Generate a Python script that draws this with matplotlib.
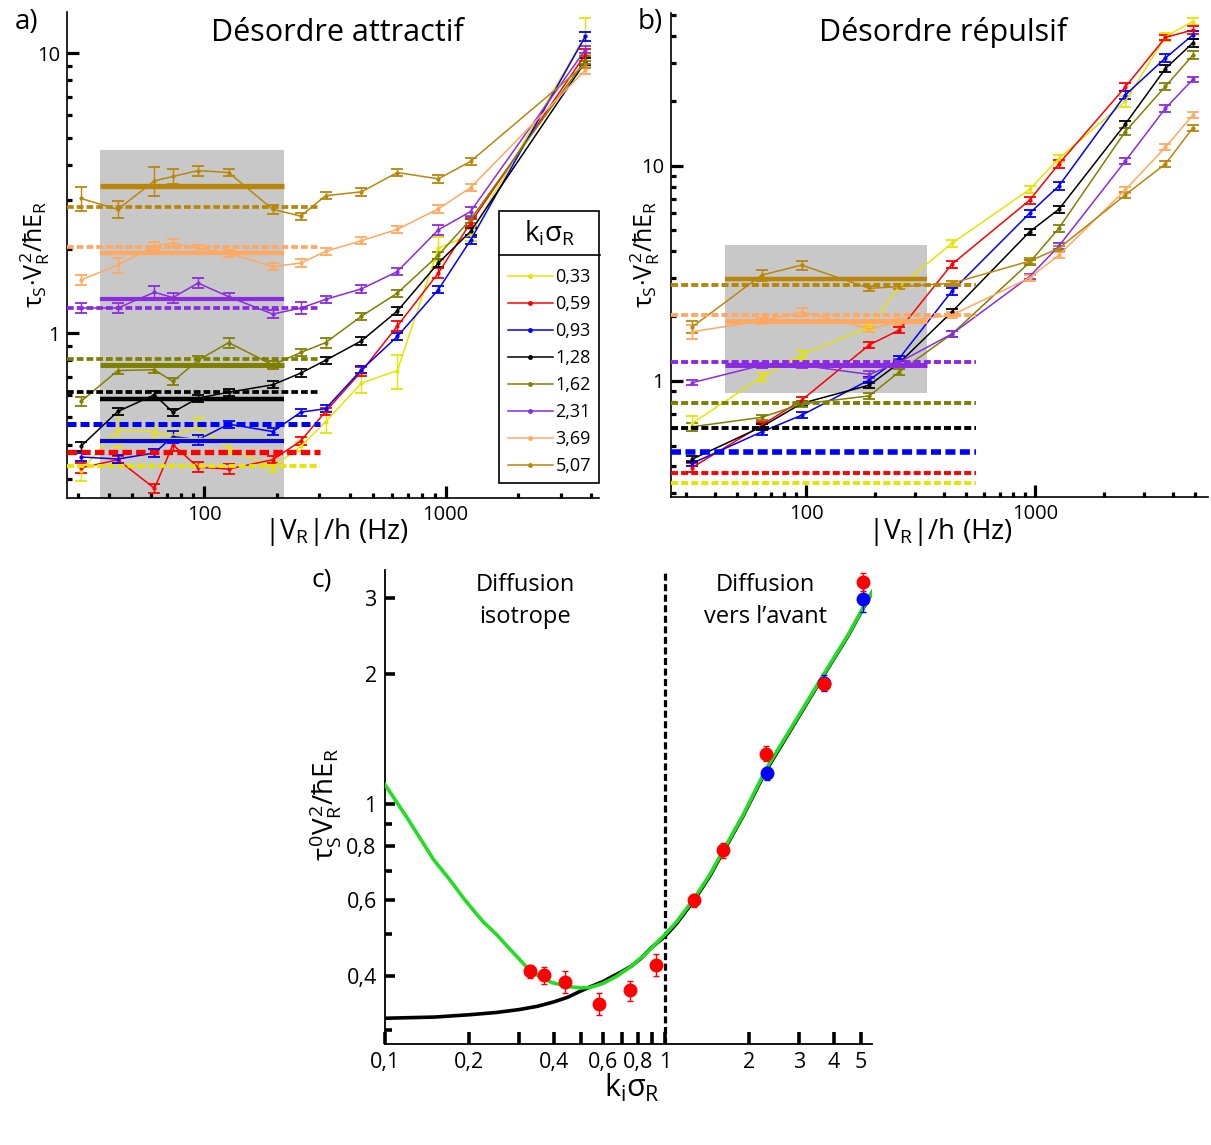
import matplotlib
matplotlib.use('Agg')
import matplotlib.pyplot as plt
from matplotlib.lines import Line2D
from matplotlib.ticker import FixedLocator, FixedFormatter, NullFormatter, LogLocator

plt.rcParams['font.family'] = ['Open Sans', 'DejaVu Sans']
plt.rcParams['mathtext.fontset'] = 'custom'
plt.rcParams['mathtext.rm'] = 'Open Sans'
plt.rcParams['mathtext.it'] = 'Open Sans'
plt.rcParams['mathtext.bf'] = 'Open Sans:bold'

W, H = 1211, 1145

# --- series shared by panels a and b ---
labels = ['0,33', '0,59', '0,93', '1,28', '1,62', '2,31', '3,69', '5,07']
colors = ['#e5e500', '#ff0000', '#0000ff', '#000000', '#808000', '#8a2be2', '#ffa860', '#b8860b']

# --- panel a : attractive disorder ---
freq_a = [30.7, 43.7, 62, 74, 94, 126, 192, 251, 318, 448, 631, 933, 1270, 3800]
a_033 = [0.323, 0.452, 0.445, 0.43, 0.464, 0.388, 0.332, 0.394, 0.483, 0.663, 0.735, 2.01, 2.25, 11.6]
a_059 = [0.330, 0.353, 0.279, 0.399, 0.332, 0.327, 0.353, 0.412, 0.525, 0.73, 1.06, 1.64, 2.48, 9.9]
a_093 = [0.361, 0.355, 0.373, 0.427, 0.416, 0.473, 0.445, 0.522, 0.537, 0.74, 0.973, 1.43, 2.15, 11.5]
a_128 = [0.394, 0.525, 0.602, 0.522, 0.586, 0.615, 0.654, 0.72, 0.80, 0.939, 1.20, 1.78, 2.31, 9.33]
a_162 = [0.570, 0.735, 0.74, 0.672, 0.80, 0.925, 0.77, 0.853, 0.925, 1.15, 1.39, 1.90, 2.55, 9.46]
a_231 = [1.23, 1.23, 1.40, 1.34, 1.51, 1.35, 1.17, 1.23, 1.32, 1.44, 1.66, 2.34, 2.72, 10.3]
a_369 = [1.55, 1.75, 2.05, 2.10, 2.01, 1.93, 1.73, 1.78, 1.96, 2.14, 2.35, 2.78, 3.31, 8.71]
a_507 = [3.03, 2.77, 3.50, 3.63, 3.81, 3.75, 2.77, 2.62, 3.10, 3.20, 3.75, 3.56, 4.11, 9.14]
# relative error bars
ea_033 = [0.08, 0.13, 0.05, 0.05, 0.07, 0.04, 0.04, 0.04, 0.09, 0.08, 0.14, 0.10, 0.05, 0.15]
ea_059 = [0.04, 0.03, 0.04, 0.05, 0.04, 0.04, 0.03, 0.03, 0.03, 0.04, 0.04, 0.04, 0.03, 0.05]
ea_093 = [0.03, 0.03, 0.03, 0.05, 0.04, 0.03, 0.03, 0.03, 0.03, 0.03, 0.03, 0.03, 0.03, 0.04]
ea_128 = [0.04, 0.03, 0.03, 0.03, 0.03, 0.03, 0.03, 0.03, 0.03, 0.03, 0.03, 0.03, 0.03, 0.03]
ea_162 = [0.04, 0.03, 0.03, 0.03, 0.04, 0.04, 0.03, 0.03, 0.04, 0.03, 0.03, 0.03, 0.03, 0.03]
ea_231 = [0.04, 0.04, 0.05, 0.04, 0.04, 0.03, 0.03, 0.05, 0.03, 0.03, 0.03, 0.04, 0.04, 0.03]
ea_369 = [0.04, 0.06, 0.03, 0.03, 0.03, 0.03, 0.03, 0.03, 0.03, 0.03, 0.03, 0.03, 0.03, 0.03]
ea_507 = [0.10, 0.07, 0.12, 0.06, 0.04, 0.03, 0.04, 0.03, 0.03, 0.03, 0.03, 0.03, 0.03, 0.03]
a_dashed = [0.336, 0.377, 0.473, 0.614, 0.807, 1.23, 2.04, 2.83]
a_solid = [0.418, None, 0.412, 0.582, 0.77, 1.33, 1.93, 3.37]
a_gray_x = [37, 213]
a_gray_top = 4.52
a_dash_end = 301

# --- panel b : repulsive disorder ---
freq_b = [31.8, 64, 95.7, 189, 255, 433, 946, 1270, 2475, 3710, 4890]
b_033 = [0.634, 1.04, 1.32, 1.78, 2.74, 4.35, 7.76, 10.8, 19.9, 39.8, 46.8]
b_059 = [0.395, 0.622, 0.813, 1.47, 1.72, 3.48, 6.91, 10.2, 23.2, 39.5, 42.8]
b_093 = [0.413, 0.579, 0.692, 1.01, 1.27, 2.61, 6.01, 8.05, 21.3, 31.7, 40.6]
b_128 = [0.432, 0.611, 0.785, 0.955, 1.21, 2.09, 4.93, 6.27, 15.6, 28.3, 37.3]
b_162 = [0.611, 0.676, 0.78, 0.851, 1.10, 1.65, 3.55, 5.12, 14.4, 23.4, 32.7]
b_231 = [0.98, 1.18, 1.18, 1.07, 1.22, 1.65, 3.05, 4.23, 10.5, 18.5, 25.2]
b_369 = [1.69, 1.90, 2.09, 1.74, 1.88, 2.02, 3.01, 3.84, 7.71, 12.2, 17.2]
b_507 = [1.78, 3.10, 3.45, 2.69, 2.74, 2.84, 3.60, 4.13, 7.31, 10.2, 15.0]
eb_033 = [0.08, 0.04, 0.04, 0.03, 0.03, 0.04, 0.04, 0.04, 0.06, 0.04, 0.04]
eb_059 = [0.05, 0.03, 0.03, 0.03, 0.03, 0.04, 0.04, 0.04, 0.04, 0.03, 0.04]
eb_093 = [0.03, 0.03, 0.03, 0.03, 0.03, 0.04, 0.04, 0.04, 0.04, 0.04, 0.04]
eb_128 = [0.03, 0.03, 0.03, 0.03, 0.03, 0.03, 0.03, 0.04, 0.04, 0.04, 0.04]
eb_162 = [0.04, 0.03, 0.03, 0.03, 0.03, 0.03, 0.03, 0.04, 0.04, 0.04, 0.04]
eb_231 = [0.03, 0.03, 0.03, 0.04, 0.03, 0.03, 0.03, 0.03, 0.03, 0.04, 0.03]
eb_369 = [0.07, 0.03, 0.04, 0.03, 0.03, 0.03, 0.03, 0.03, 0.03, 0.03, 0.03]
eb_507 = [0.06, 0.06, 0.05, 0.03, 0.03, 0.03, 0.03, 0.03, 0.03, 0.03, 0.03]
b_dashed = [0.333, 0.371, 0.468, 0.60, 0.79, 1.22, 2.02, 2.79]
b_solid = [None, None, None, None, None, 1.18, 1.90, 2.97]
b_gray_x = [44.3, 338]
b_gray_y = [0.874, 4.28]
b_dash_end = 550

# --- panel c : tau_s^0 versus k_i sigma_R ---
c_red_k = [0.33, 0.37, 0.44, 0.58, 0.75, 0.93, 1.27, 1.61, 2.30, 3.69, 5.07]
c_red_y = [0.411, 0.402, 0.389, 0.346, 0.371, 0.425, 0.60, 0.782, 1.31, 1.90, 3.27]
c_red_err = [0.015, 0.018, 0.022, 0.02, 0.02, 0.025, 0.02, 0.03, 0.05, 0.06, 0.15]
c_blue_k = [2.31, 3.69, 5.07]
c_blue_y = [1.18, 1.91, 2.99]
c_blue_err = [0.04, 0.08, 0.2]
black_k = [0.1, 0.15, 0.2, 0.25, 0.3, 0.35, 0.4, 0.45, 0.5, 0.55, 0.6, 0.65, 0.7, 0.76,
           0.82, 0.89, 1.0, 1.1, 1.27, 1.45, 1.61, 1.9, 2.3, 2.8, 3.69, 4.5, 5.07, 5.5]
black_y = [0.32, 0.322, 0.326, 0.330, 0.335, 0.341, 0.349, 0.358, 0.37, 0.38, 0.389, 0.40,
           0.41, 0.423, 0.44, 0.465, 0.495, 0.53, 0.60, 0.685, 0.775, 0.94, 1.2, 1.48, 1.99,
           2.45, 2.82, 3.1]
green_k = [0.1, 0.12, 0.149, 0.17, 0.192, 0.21, 0.224, 0.25, 0.271, 0.3, 0.327, 0.36, 0.394,
           0.45, 0.5, 0.54, 0.6, 0.671, 0.75, 0.85, 1.0, 1.1, 1.27, 1.45, 1.61, 1.9, 2.3, 2.8,
           3.69, 4.5, 5.07, 5.55]
green_y = [1.11, 0.93, 0.745, 0.67, 0.603, 0.562, 0.535, 0.50, 0.472, 0.44, 0.414, 0.398,
           0.387, 0.379, 0.376, 0.377, 0.385, 0.40, 0.42, 0.45, 0.50, 0.535, 0.605, 0.69,
           0.78, 0.945, 1.21, 1.49, 2.0, 2.46, 2.83, 3.13]


def fig_xy(x, y):
    return x / W, 1 - y / H


def style_log_axes(ax, xmaj, xlab, ymaj, ylab):
    ax.set_xscale('log')
    ax.set_yscale('log')
    ax.xaxis.set_major_locator(FixedLocator(xmaj))
    ax.xaxis.set_major_formatter(FixedFormatter(xlab))
    ax.xaxis.set_minor_locator(LogLocator(base=10, subs=range(2, 10), numticks=30))
    ax.xaxis.set_minor_formatter(NullFormatter())
    ax.yaxis.set_major_locator(FixedLocator(ymaj))
    ax.yaxis.set_major_formatter(FixedFormatter(ylab))
    ax.yaxis.set_minor_locator(LogLocator(base=10, subs=range(2, 10), numticks=30))
    ax.yaxis.set_minor_formatter(NullFormatter())
    for s in ['top', 'right']:
        ax.spines[s].set_visible(False)
    for s in ['left', 'bottom']:
        ax.spines[s].set_linewidth(1.2)
    ax.tick_params(which='both', direction='in', width=2.3, labelsize=14.5, pad=5)
    ax.tick_params(which='major', length=8.5)
    ax.tick_params(which='minor', length=3.8)


def draw_series(ax, freq, series, errors):
    for vals, rel, c in zip(series, errors, colors):
        err = [v * r for v, r in zip(vals, rel)]
        ax.errorbar(freq, vals, yerr=err, color=c, lw=1.1, marker='.', ms=4,
                    elinewidth=1.0, capsize=4.5, capthick=1.3, zorder=2)


def draw_levels(ax, dashed, solid, gray_x, dash_end, x_left, dash_lw, solid_lw):
    for y, c, lw in zip(dashed, colors, dash_lw):
        ax.plot([x_left, dash_end], [y, y], color=c, lw=lw, ls=(0, (1.8, 0.8)),
                solid_capstyle='butt', zorder=3)
    for y, c, lw in zip(solid, colors, solid_lw):
        if y is None:
            continue
        ax.plot(gray_x, [y, y], color=c, lw=lw, solid_capstyle='butt', zorder=3)


def panel_a(fig):
    ax = fig.add_axes([67 / W, 1 - 498 / H, (599 - 67) / W, (498 - 12) / H])
    ax.set_xlim(26.9, 4330)
    ax.set_ylim(0.2576, 14.05)
    ax.fill_between(a_gray_x, 0.1, a_gray_top, color='#c8c8c8', lw=0, zorder=0)
    draw_series(ax, freq_a, [a_033, a_059, a_093, a_128, a_162, a_231, a_369, a_507],
                [ea_033, ea_059, ea_093, ea_128, ea_162, ea_231, ea_369, ea_507])
    draw_levels(ax, a_dashed, a_solid, a_gray_x, a_dash_end, 26.9,
                [2.8, 3.8, 3.6, 2.7, 2.7, 2.7, 2.7, 2.7],
                [2.4, 3.0, 3.0, 3.2, 3.6, 3.0, 3.0, 3.8])
    style_log_axes(ax, [100, 1000], ['100', '1000'], [1, 10], ['1', '10'])

    handles = [Line2D([], [], color=c, lw=1.1, marker='.', ms=5) for c in colors]
    leg = ax.legend(handles, labels, loc='lower right', bbox_to_anchor=(1.0, 0.03),
                    title=r'$k_i\sigma_R$', title_fontsize=20, fontsize=13,
                    handlelength=2.5, handletextpad=0.15, labelspacing=0.5,
                    borderpad=0.45, fancybox=False, edgecolor='black', framealpha=1,
                    borderaxespad=0)
    leg.get_frame().set_linewidth(1.2)
    leg._legend_box.sep = 14
    return ax, leg


def panel_b(fig):
    ax = fig.add_axes([671 / W, 1 - 496.7 / H, (1208 - 671) / W, (496.7 - 13) / H])
    ax.set_xlim(25.7, 5690)
    ax.set_ylim(0.289, 51.3)
    ax.fill_between(b_gray_x, b_gray_y[0], b_gray_y[1], color='#c8c8c8', lw=0, zorder=0)
    draw_series(ax, freq_b, [b_033, b_059, b_093, b_128, b_162, b_231, b_369, b_507],
                [eb_033, eb_059, eb_093, eb_128, eb_162, eb_231, eb_369, eb_507])
    draw_levels(ax, b_dashed, b_solid, b_gray_x, b_dash_end, 25.7,
                [2.8, 2.8, 4.0, 2.8, 2.8, 2.8, 2.8, 2.8],
                [3, 3, 3, 3, 3, 3.6, 3.6, 3.2])
    style_log_axes(ax, [100, 1000], ['100', '1000'], [1, 10], ['1', '10'])
    return ax


def panel_c(fig):
    ax = fig.add_axes([385 / W, 1 - 1044 / H, (872 - 385) / W, (1044 - 570) / H])
    ax.set_xscale('log')
    ax.set_yscale('log')
    ax.set_xlim(0.1, 5.48)
    ax.set_ylim(0.279, 3.48)
    ax.plot(black_k, black_y, color='black', lw=2.6, zorder=2)
    ax.plot(green_k, green_y, color='#22dd22', lw=2.6, zorder=3)
    ax.axvline(1.0, color='black', lw=2.3, ls=(0, (2.2, 1.1)), zorder=1)
    ax.errorbar(c_red_k, c_red_y, yerr=c_red_err, fmt='o', color='#ff0000', ms=9,
                elinewidth=1.0, capsize=2.5, capthick=1.0, zorder=5)
    ax.errorbar(c_blue_k, c_blue_y, yerr=c_blue_err, fmt='o', color='#0000ff', ms=9,
                elinewidth=1.0, capsize=2.5, capthick=1.0, zorder=4)

    ax.xaxis.set_major_locator(FixedLocator([0.1, 0.2, 0.4, 0.6, 0.8, 1, 2, 3, 4, 5]))
    ax.xaxis.set_major_formatter(FixedFormatter(['0,1', '0,2', '0,4', '0,6', '0,8',
                                                 '1', '2', '3', '4', '5']))
    ax.xaxis.set_minor_locator(FixedLocator([0.3, 0.5, 0.7, 0.9]))
    ax.xaxis.set_minor_formatter(NullFormatter())
    ax.yaxis.set_major_locator(FixedLocator([0.4, 0.6, 0.8, 1, 2, 3]))
    ax.yaxis.set_major_formatter(FixedFormatter(['0,4', '0,6', '0,8', '1', '2', '3']))
    ax.yaxis.set_minor_locator(FixedLocator([0.3, 0.5, 0.7, 0.9]))
    ax.yaxis.set_minor_formatter(NullFormatter())
    for s in ['top', 'right']:
        ax.spines[s].set_visible(False)
    for s in ['left', 'bottom']:
        ax.spines[s].set_linewidth(1.3)
    ax.tick_params(which='both', direction='in', width=2.6, labelsize=15.5, pad=6)
    ax.tick_params(axis='x', which='both', length=8.5)
    ax.tick_params(axis='y', which='major', length=7)
    ax.tick_params(axis='y', which='minor', length=5)
    return ax


def texts(fig):
    t = dict(ha='center', va='center')
    fig.text(*fig_xy(27, 22), 'a)', fontsize=20, **t)
    fig.text(*fig_xy(650, 22), 'b)', fontsize=20, **t)
    fig.text(*fig_xy(322, 580), 'c)', fontsize=19, **t)
    fig.text(*fig_xy(337, 33), 'Désordre attractif', fontsize=22, **t)
    fig.text(*fig_xy(943, 33), 'Désordre répulsif', fontsize=22, **t)
    ylab = r'$\tau_S$·$V_R^2/\hbar E_R$'
    fig.text(*fig_xy(35, 255), ylab, fontsize=18, rotation=90, **t)
    fig.text(*fig_xy(645, 255), ylab, fontsize=18, rotation=90, **t)
    xlab = r'$|V_R|/h$ (Hz)'
    fig.text(*fig_xy(336, 532), xlab, fontsize=20, **t)
    fig.text(*fig_xy(940, 532), xlab, fontsize=20, **t)
    fig.text(*fig_xy(325, 805), r'$\tau_S^0 V_R^2/\hbar E_R$', fontsize=20, rotation=90, **t)
    fig.text(*fig_xy(632, 1088), r'$k_i\sigma_R$', fontsize=22, **t)
    fig.text(*fig_xy(525, 601), 'Diffusion\nisotrope', fontsize=17, linespacing=1.45, **t)
    fig.text(*fig_xy(765, 601), 'Diffusion\nvers l’avant', fontsize=17, linespacing=1.45, **t)


def legend_separator(fig, leg):
    fig.canvas.draw()
    r = fig.canvas.get_renderer()
    fb = leg.get_frame().get_window_extent(r)
    tb = leg.get_title().get_window_extent(r)
    inv = fig.transFigure.inverted()
    y = tb.y0 - 6
    (x0, y0), (x1, _) = inv.transform([(fb.x0, y), (fb.x1 + 1, y)])
    fig.add_artist(Line2D([x0, x1], [y0, y0], color='black', lw=1.2,
                          transform=fig.transFigure))


def main():
    fig = plt.figure(figsize=(W / 100, H / 100), dpi=100)
    ax_a, leg = panel_a(fig)
    panel_b(fig)
    panel_c(fig)
    texts(fig)
    legend_separator(fig, leg)
    fig.savefig('out.png', dpi=100)


if __name__ == "__main__":
    main()
